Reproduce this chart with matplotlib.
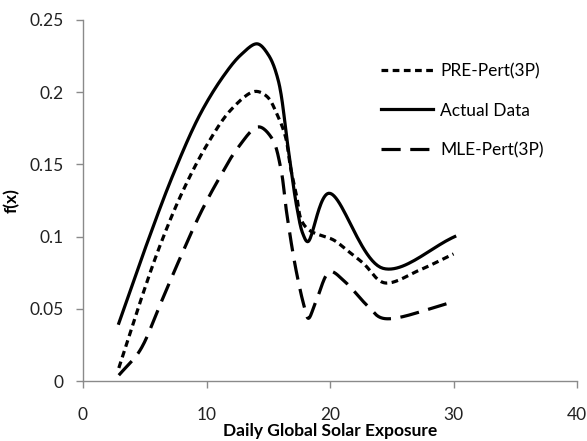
import numpy as np
import matplotlib
matplotlib.use("Agg")
from matplotlib import pyplot as plt

# values
act_x = [2.9, 5.0, 7.3, 9.5, 11.4, 12.8, 14.1, 15.0, 15.8, 16.6, 17.3, 17.8, 18.2, 19.9, 24.3, 30.1]
act_y = [0.040, 0.091, 0.143, 0.185, 0.2115, 0.226, 0.2335, 0.226, 0.2085, 0.162, 0.121, 0.102, 0.0965, 0.130, 0.078, 0.100]

pre_x = [2.9, 4.6, 6.2, 8.0, 10.0, 12.0, 13.9, 14.9, 15.7, 16.4, 16.8, 17.3, 17.7, 18.4, 20.3, 21.35, 22.7, 24.4, 27.3, 30.0]
pre_y = [0.009, 0.054, 0.093, 0.130, 0.163, 0.188, 0.2005, 0.197, 0.185, 0.169, 0.148, 0.128, 0.111, 0.104, 0.0976, 0.0907, 0.0815, 0.068, 0.077, 0.088]

mle_x = [2.9, 4.6, 6.2, 7.7, 9.5, 11.0, 12.5, 14.2, 15.3, 16.0, 16.5, 17.2, 17.9, 18.25, 18.9, 20.0, 21.2, 23.1, 24.3, 30.1]
mle_y = [0.004, 0.021, 0.052, 0.082, 0.116, 0.140, 0.161, 0.176, 0.168, 0.148, 0.116, 0.079, 0.052, 0.0434, 0.056, 0.0757, 0.0688, 0.0515, 0.0434, 0.055]

labels = ["PRE-Pert(3P)", "Actual Data", "MLE-Pert(3P)"]


def smooth(x, y, n=25):
    # centripetal catmull-rom, like excel's "smoothed line"
    sx, sy = 494 / 40.0, 361 / 0.25
    p = np.column_stack([np.array(x) * sx, np.array(y) * sy])
    p = np.vstack([2 * p[0] - p[1], p, 2 * p[-1] - p[-2]])
    out = []
    for i in range(1, len(p) - 2):
        p0, p1, p2, p3 = p[i - 1], p[i], p[i + 1], p[i + 2]
        t0 = 0.0
        t1 = t0 + np.linalg.norm(p1 - p0) ** 0.5
        t2 = t1 + np.linalg.norm(p2 - p1) ** 0.5
        t3 = t2 + np.linalg.norm(p3 - p2) ** 0.5
        t = np.linspace(t1, t2, n)[:, None]
        a1 = (t1 - t) / (t1 - t0) * p0 + (t - t0) / (t1 - t0) * p1
        a2 = (t2 - t) / (t2 - t1) * p1 + (t - t1) / (t2 - t1) * p2
        a3 = (t3 - t) / (t3 - t2) * p2 + (t - t2) / (t3 - t2) * p3
        b1 = (t2 - t) / (t2 - t0) * a1 + (t - t0) / (t2 - t0) * a2
        b2 = (t3 - t) / (t3 - t1) * a2 + (t - t1) / (t3 - t1) * a3
        c = (t2 - t) / (t2 - t1) * b1 + (t - t1) / (t2 - t1) * b2
        out.append(c if i == 1 else c[1:])
    c = np.vstack(out)
    return c[:, 0] / sx, c[:, 1] / sy


plt.rcParams['font.family'] = ['Lato', 'DejaVu Sans']
fig = plt.figure(figsize=(5.87, 4.41), dpi=100)
ax = fig.add_axes([83 / 587, 60 / 441, 494 / 587, 361 / 441])

lw = 2.3
xs, ys = smooth(pre_x, pre_y)
ax.plot(xs, ys, color='black', lw=lw, dashes=(2.1, 1.4), label=labels[0])
xs, ys = smooth(act_x, act_y)
ax.plot(xs, ys, color='black', lw=lw, label=labels[1])
xs, ys = smooth(mle_x, mle_y)
ax.plot(xs, ys, color='black', lw=lw, dashes=(6, 3), label=labels[2])

ax.set_xlim(0, 40)
ax.set_ylim(0, 0.25)
ax.set_xticks([0, 10, 20, 30, 40])
ax.set_yticks([0, 0.05, 0.1, 0.15, 0.2, 0.25])
ax.set_yticklabels(['0', '0.05', '0.1', '0.15', '0.2', '0.25'])

for s in ['top', 'right']:
    ax.spines[s].set_visible(False)
for s in ['left', 'bottom']:
    ax.spines[s].set_color('#8a8a8a')
    ax.spines[s].set_linewidth(1.0)
ax.tick_params(axis='both', direction='out', length=5, width=1.0, color='#8a8a8a',
               labelsize=12.5, labelcolor='#222222')
ax.tick_params(axis='x', pad=14)
ax.tick_params(axis='y', pad=9)

ax.set_xlabel('Daily Global Solar Exposure', fontsize=12.5, fontweight='bold')
ax.xaxis.set_label_coords(0.5, -0.115)
ax.set_ylabel('f(x)', fontsize=12.5, fontweight='bold')
ax.yaxis.set_label_coords(-0.128, 0.5)

ax.legend(loc='upper left', bbox_to_anchor=(381 / 587, 1 - 63 / 441),
          bbox_transform=fig.transFigure, frameon=False, fontsize=12.5,
          handlelength=3.0, handletextpad=0.4, labelspacing=1.35,
          borderpad=0, borderaxespad=0)

fig.savefig('out.png', dpi=100)
